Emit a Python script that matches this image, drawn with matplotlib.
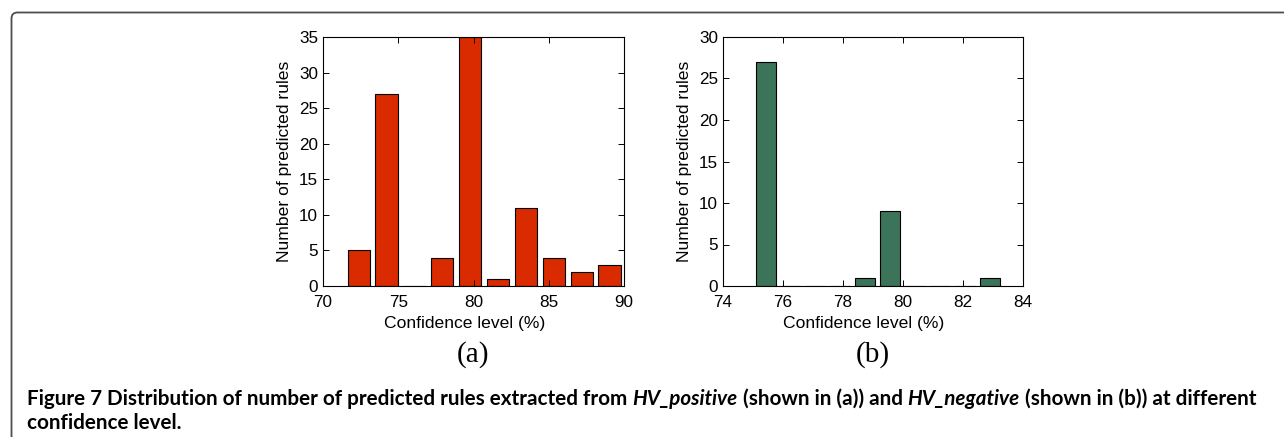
import matplotlib
matplotlib.use("Agg")
import matplotlib.pyplot as plt
from matplotlib.path import Path
from matplotlib.patches import PathPatch
from matplotlib.transforms import IdentityTransform

# bin centres (confidence level, %) and counts
conf_pos = [72.37, 74.22, 76.07, 77.93, 79.78, 81.63, 83.48, 85.33, 87.19, 89.04]
count_pos = [5, 27, 0, 4, 35, 1, 11, 4, 2, 3]

conf_neg = [75.42, 76.25, 77.08, 77.91, 78.74, 79.57, 80.40, 81.23, 82.06, 82.89]
count_neg = [27, 0, 0, 0, 1, 9, 0, 0, 0, 1]

xticks_pos = [70, 75, 80, 85, 90]
yticks_pos = [0, 5, 10, 15, 20, 25, 30, 35]
xticks_neg = [74, 76, 78, 80, 82, 84]
yticks_neg = [0, 5, 10, 15, 20, 25, 30]

W, H = 1284, 437
fig = plt.figure(figsize=(W / 100, H / 100), dpi=100)
plt.rcParams['font.family'] = ['Liberation Sans', 'DejaVu Sans']


def hist_panel(rect, x, y, width, color, xticks, yticks):
    ax = fig.add_axes(rect)
    ax.bar(x, y, width=width, color=color, edgecolor='black', linewidth=0.8)
    ax.set_xlim(xticks[0], xticks[-1])
    ax.set_ylim(yticks[0], yticks[-1])
    ax.set_xticks(xticks)
    ax.set_yticks(yticks)
    ax.tick_params(direction='in', top=True, right=True, length=4,
                   width=0.7, labelsize=12.3)
    ax.tick_params(axis='x', pad=6.5)
    ax.tick_params(axis='y', pad=3.5)
    for s in ax.spines.values():
        s.set_linewidth(0.8)
    ax.set_xlabel('Confidence level (%)', fontsize=12.6)
    ax.set_ylabel('Number of predicted rules', fontsize=12.6)
    ax.xaxis.set_label_coords(0.47, -0.12)
    ax.xaxis.label.set_va('top')
    ax.yaxis.set_label_coords(-0.103, 0.5)
    return ax


ax1 = hist_panel([323 / W, 151 / H, 301 / W, 249 / H], conf_pos, count_pos,
                 1.48, '#d92a00', xticks_pos, yticks_pos)
ax2 = hist_panel([723 / W, 151 / H, 300 / W, 249 / H], conf_neg, count_neg,
                 0.665, '#3b7458', xticks_neg, yticks_neg)

fig.text(473 / W, 1 - 355 / H, '(a)', family='Liberation Serif', fontsize=21,
         ha='center', va='center')
fig.text(873 / W, 1 - 355 / H, '(b)', family='Liberation Serif', fontsize=21,
         ha='center', va='center')

# caption, pieces with different styles placed one after another
cap_font = ['Lato', 'DejaVu Sans']
cap_size = 14.85
line1 = [
    ('Figure 7', 'normal'),
    (' Distribution of number of predicted rules extracted from ', 'normal'),
    ('HV_positive', 'italic'),
    (' (shown in (a)) and ', 'normal'),
    ('HV_negative', 'italic'),
    (' (shown in (b)) at different', 'normal'),
]
renderer = fig.canvas.get_renderer()
x = 27
for txt, st in line1:
    t = fig.text(x / W, 1 - 405 / H, txt, family=cap_font, fontsize=cap_size,
                 weight='bold', style=st, ha='left', va='baseline')
    x = t.get_window_extent(renderer).x1
fig.text(27 / W, 1 - 429 / H, 'confidence level.', family=cap_font,
         fontsize=cap_size, weight='bold', ha='left', va='baseline')

# rounded frame in the top-left corner, running off right and bottom edges
yt = H - 12.5
xl = 11.5
r = 6
verts = [(xl, -5), (xl, yt - r), (xl, yt), (xl + r, yt), (W + 5, yt)]
codes = [Path.MOVETO, Path.LINETO, Path.CURVE3, Path.CURVE3, Path.LINETO]
fig.add_artist(PathPatch(Path(verts, codes), fill=False, edgecolor='#4d4d4d',
                         linewidth=1.3, transform=IdentityTransform()))

fig.savefig('out.png', dpi=100)
